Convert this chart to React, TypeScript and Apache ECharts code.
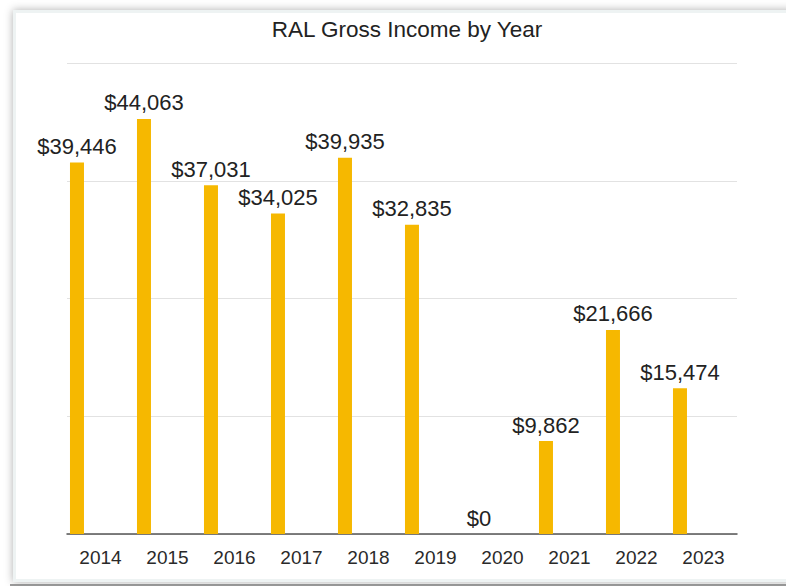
import React, { useEffect, useRef } from "react";
import * as echarts from "echarts";

const years = ["2014", "2015", "2016", "2017", "2018", "2019", "2020", "2021", "2022", "2023"];
const income = [39446, 44063, 37031, 34025, 39935, 32835, 0, 9862, 21666, 15474];
const yMin = 0;
const yMax = 50000;
const yInterval = 12500;
const titleText = "RAL Gross Income by Year";

const FONT = "'Liberation Sans', Arial, Helvetica, sans-serif";

export default function App() {
  const ref = useRef<HTMLDivElement>(null);
  useEffect(() => {
    if (!ref.current) return;
    const chart = echarts.init(ref.current, undefined, { renderer: "svg" });
    chart.setOption({
      animation: false,
      backgroundColor: "#ffffff",
      textStyle: { fontFamily: FONT },
      graphic: [
        {
          type: "rect",
          z: -10,
          shape: { x: 13, y: 10, width: 820, height: 572 },
          style: { fill: "#ffffff", shadowBlur: 9, shadowColor: "rgba(0,0,0,0.32)", shadowOffsetX: 0, shadowOffsetY: 0 },
          silent: true,
        },
        {
          type: "rect",
          z: -9,
          shape: { x: 14.5, y: 11.5, width: 820, height: 569 },
          style: { fill: "none", stroke: "#eef3f3", lineWidth: 3 },
          silent: true,
        },
        {
          type: "line",
          z: -8,
          shape: { x1: 10, y1: 585, x2: 786, y2: 585 },
          style: { stroke: "#7a7a7a", lineWidth: 1.5 },
          silent: true,
        },
      ],
      title: {
        text: titleText,
        left: 402,
        textAlign: "center",
        top: 13,
        textStyle: { fontFamily: FONT, fontSize: 22.5, fontWeight: "normal", color: "#222222" },
      },
      grid: { left: 67, right: 49, top: 63, bottom: 52, containLabel: false },
      xAxis: {
        type: "category",
        data: years,
        axisLine: { show: true, lineStyle: { color: "#555555", width: 1.5 } },
        axisTick: { show: false },
        axisLabel: { interval: 0, margin: 14, fontFamily: FONT, fontSize: 19, color: "#2a2a2a" },
        splitLine: { show: false },
      },
      yAxis: {
        type: "value",
        min: yMin,
        max: yMax,
        interval: yInterval,
        axisLine: { show: false },
        axisTick: { show: false },
        axisLabel: { show: false },
        splitLine: { show: true, lineStyle: { color: "#e2e2e2", width: 1 } },
      },
      series: [
        {
          type: "bar",
          data: income,
          barWidth: 14,
          barGap: "236%",
          itemStyle: { color: "#F6B800" },
          label: {
            show: true,
            position: "top",
            distance: 5,
            fontFamily: FONT,
            fontSize: 22,
            color: "#222222",
            formatter: (p: any) => "$" + Number(p.value).toLocaleString("en-US"),
          },
        },
        {
          type: "bar",
          data: years.map(() => "-"),
          barWidth: 14,
          itemStyle: { color: "transparent" },
          silent: true,
        },
      ],
    });
    return () => chart.dispose();
  }, []);
  return (
    <div style={{ position: "fixed", left: 0, top: 0, width: 786, height: 586 }}>
      <div ref={ref} style={{ width: 786, height: 586 }} />
    </div>
  );
}
